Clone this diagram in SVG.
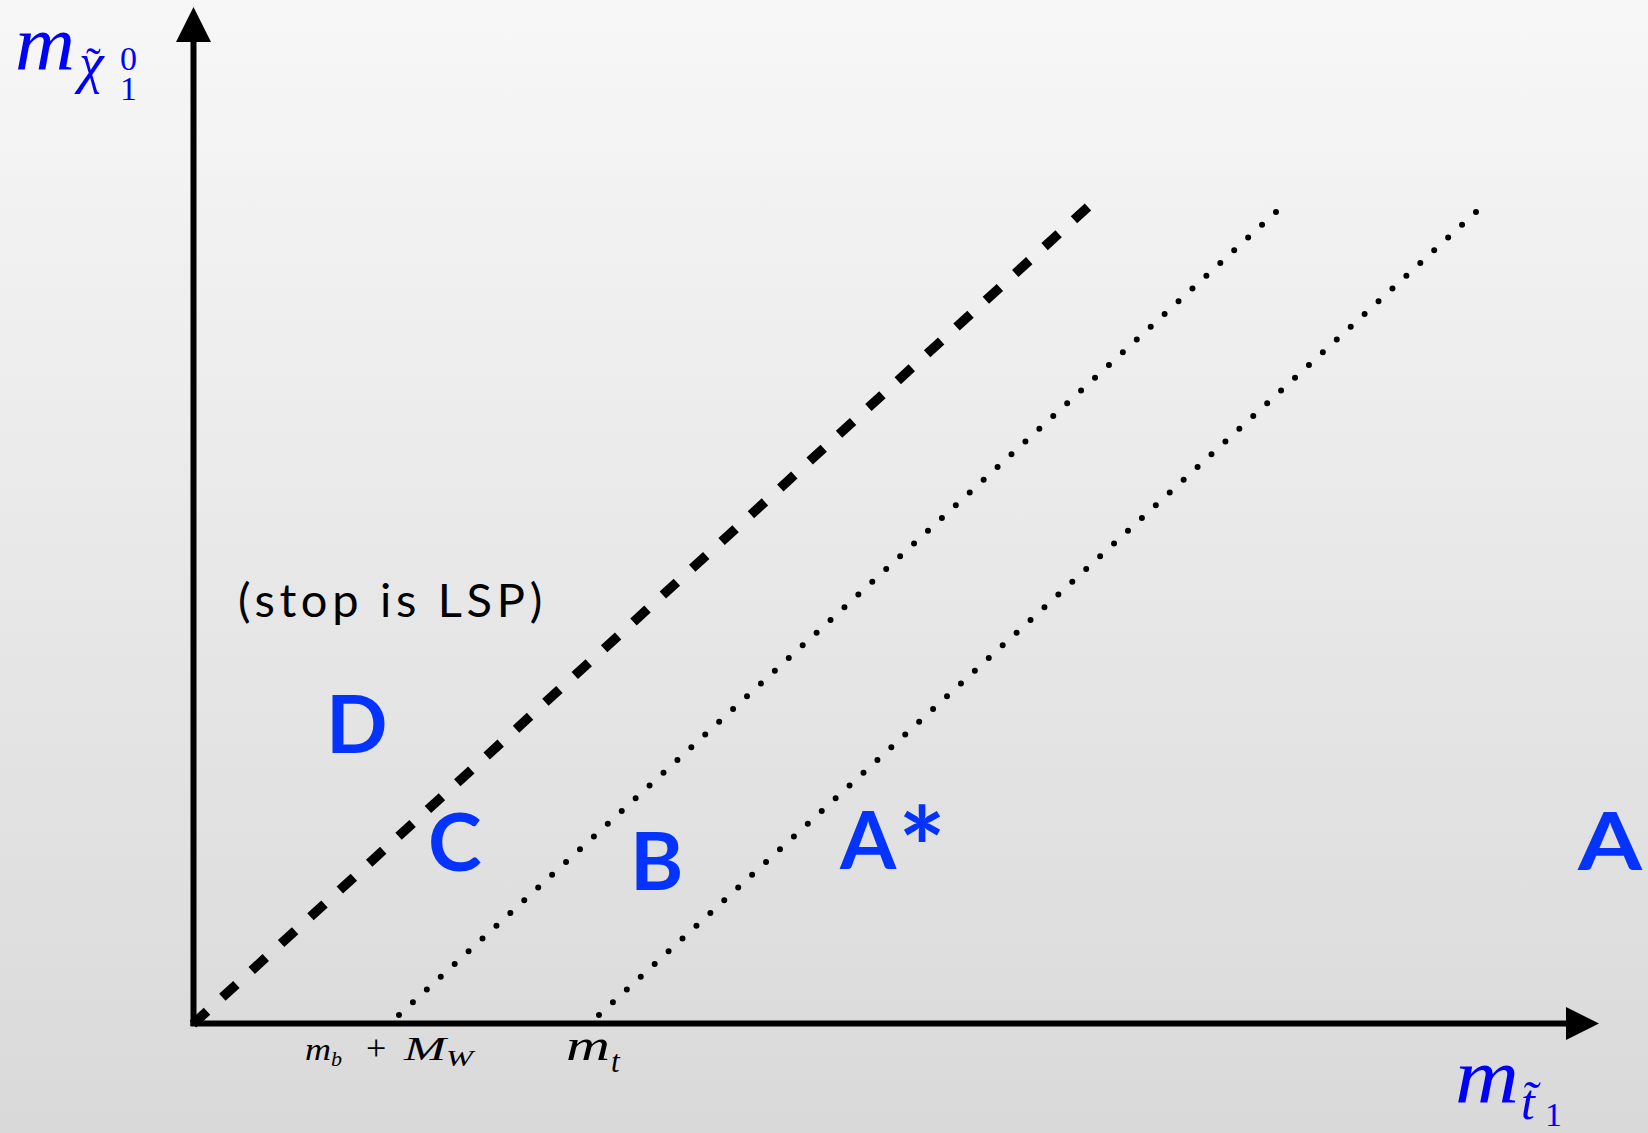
<svg xmlns="http://www.w3.org/2000/svg" width="1648" height="1133" viewBox="0 0 1648 1133">
<defs>
<linearGradient id="bg" x1="0" y1="0" x2="0" y2="1">
<stop offset="0" stop-color="#f7f7f7"/>
<stop offset="1" stop-color="#d9d9d9"/>
</linearGradient>
<style>
.math{font-family:"Liberation Serif","DejaVu Serif",serif;font-style:italic;fill:#0000ff}
.rm{font-family:"Liberation Serif","DejaVu Serif",serif;font-style:normal;fill:#0000ff}
.mk{font-family:"Liberation Serif","DejaVu Serif",serif;font-style:italic;fill:#000}
.mkr{font-family:"Liberation Serif","DejaVu Serif",serif;font-style:normal;fill:#000}
.big{font-family:Lato,"Open Sans",sans-serif;font-weight:700;font-size:81px;fill:#0433ff}
.axis{stroke:#000;stroke-width:6;fill:none}
.dot{stroke:#000;stroke-width:6;stroke-linecap:round;stroke-dasharray:0 18.874;fill:none}
</style>
</defs>
<rect width="1648" height="1133" fill="url(#bg)"/>
<g id="connectors">
<line class="axis" x1="193.5" y1="1026" x2="193.5" y2="38"/>
<polygon points="193.5,7 176,42 211,42" fill="#000"/>
<line class="axis" x1="190.5" y1="1023.5" x2="1570" y2="1023.5"/>
<polygon points="1599,1023.5 1566,1007 1566,1040" fill="#000"/>
<line x1="193" y1="1024" x2="1088" y2="207" stroke="#000" stroke-width="9.5" stroke-dasharray="19 20.76"/>
<line class="dot" x1="399" y1="1015" x2="1276" y2="212"/>
<line class="dot" x1="599" y1="1015" x2="1476" y2="212"/>
</g>
<g id="ylabel">
<text class="math" x="15" y="70" font-size="78" textLength="60" lengthAdjust="spacingAndGlyphs">m</text>
<text class="math" x="79" y="82" font-size="56">χ</text>
<text class="rm" x="86" y="78" font-size="44">˜</text>
<text class="rm" x="120" y="100" font-size="34">1</text>
<text class="rm" x="120" y="70" font-size="34">0</text>
</g>
<g id="xlabel">
<text class="math" x="1455" y="1103" font-size="78" textLength="64" lengthAdjust="spacingAndGlyphs">m</text>
<text class="math" x="1521" y="1119" font-size="50">t̃</text>
<text class="rm" x="1545" y="1126" font-size="34">1</text>
</g>
<g id="ticks">
<text class="mk" x="305" y="1060" font-size="31" textLength="26" lengthAdjust="spacingAndGlyphs">m</text>
<text class="mk" x="331" y="1066" font-size="22">b</text>
<text class="mkr" x="366" y="1060" font-size="36">+</text>
<text class="mk" x="404" y="1060" font-size="33" textLength="42" lengthAdjust="spacingAndGlyphs">M</text>
<text class="mk" x="446" y="1066" font-size="23" textLength="27" lengthAdjust="spacingAndGlyphs">W</text>
<text class="mk" x="566" y="1060" font-size="44" textLength="44" lengthAdjust="spacingAndGlyphs">m</text>
<text class="mk" x="611" y="1072" font-size="31">t</text>
</g>
<g id="note">
<text x="238" y="617" font-family="Lato,'Open Sans',sans-serif" font-size="47" letter-spacing="4.7" fill="#000">(stop is LSP)</text>
</g>
<g id="regionD"><text class="big" x="326" y="753">D</text></g>
<g id="regionC"><text class="big" x="428" y="871">C</text></g>
<g id="regionB"><text class="big" x="630" y="890">B</text></g>
<g id="regionAstar"><text class="big" x="840" y="869">A<tspan font-size="112" dx="2" dy="20">*</tspan></text></g>
<g id="regionA"><text class="big" x="1578" y="870" textLength="64" lengthAdjust="spacingAndGlyphs">A</text></g>
</svg>
